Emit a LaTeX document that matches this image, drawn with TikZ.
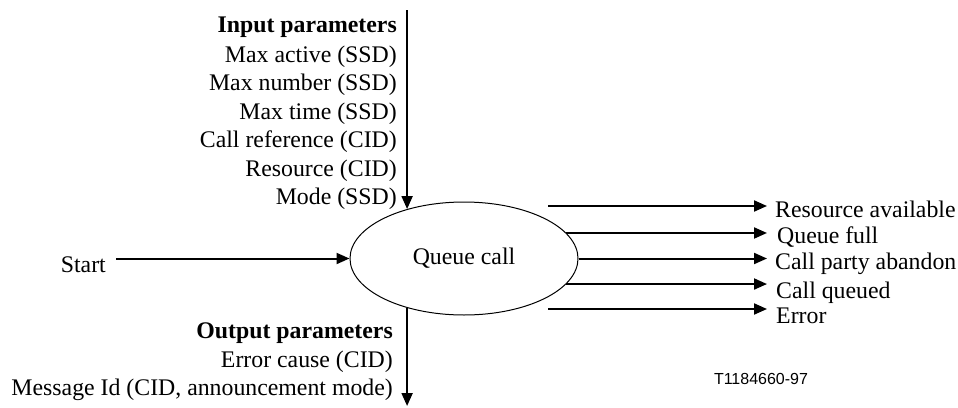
\documentclass[tikz,border=0pt]{standalone}
\usepackage{fontspec}
\setmainfont{Liberation Serif}
\newfontfamily\tagfont{Liberation Sans}
\usetikzlibrary{arrows.meta}
\begin{document}
\begin{tikzpicture}[x=1pt,y=-1pt,
  every node/.style={inner sep=0pt, font=\fontsize{23.8}{28}\selectfont},
  lbl/.style={anchor=base east},
  rlbl/.style={anchor=base west},
  conn/.style={line width=2pt, -{Triangle[length=13pt,width=11pt]}},
  plain/.style={line width=2pt},
  proc/.style={ellipse, draw, line width=1pt, minimum width=228pt, minimum height=113pt}
]
\useasboundingbox (0,0) rectangle (958,407);
\usetikzlibrary{shapes.geometric}
\node[proc] (q) at (464,258.5) {Queue call};

% input parameters
\node[lbl] (ip) at (397,32) {\bfseries Input parameters};
\node[lbl] (i1) at (397,62) {Max active (SSD)};
\node[lbl] (i2) at (397,90.5) {Max number (SSD)};
\node[lbl] (i3) at (397,119) {Max time (SSD)};
\node[lbl] (i4) at (397,147.5) {Call reference (CID)};
\node[lbl] (i5) at (397,176) {Resource (CID)};
\node[lbl] (i6) at (397,204.5) {Mode (SSD)};
\coordinate (intop) at (q.139.4 |- 0,10);
\draw[conn] (intop) -- (q.139.4);

% start
\node[lbl] (start) at (106,272) {Start};
\coordinate (startend) at (116,0);
\draw[conn] (startend |- q.west) -- (q.west);

% outputs
\node[rlbl] (o1) at (775,217) {Resource available};
\node[rlbl] (o2) at (777,243) {Queue full};
\node[rlbl] (o3) at (775,269) {Call party abandon};
\node[rlbl] (o4) at (776,298) {Call queued};
\node[rlbl] (o5) at (776,323) {Error};
\coordinate (tipx) at (767,0);
\coordinate (s1) at (548,206);
\coordinate (s5) at (548,309);
\draw[conn] (s1) -- (s1 -| tipx);
\draw[conn] (q.14) -- (q.14 -| tipx);
\draw[conn] (q.east) -- (q.east -| tipx);
\draw[conn] (q.-14) -- (q.-14 -| tipx);
\draw[conn] (s5) -- (s5 -| tipx);

% output parameters
\node[lbl] (op) at (393,338) {\bfseries Output parameters};
\node[lbl] (p1) at (393,367) {Error cause (CID)};
\node[lbl] (p2) at (393,395) {Message Id (CID, announcement mode)};
\coordinate (outend) at (q.-139.4 |- 0,406);
\draw[conn] (q.-139.4) -- (outend);

\node[anchor=base, font=\tagfont\fontsize{16}{19}\selectfont] (tag) at (761,384) {T1184660-97};
\end{tikzpicture}
\end{document}
